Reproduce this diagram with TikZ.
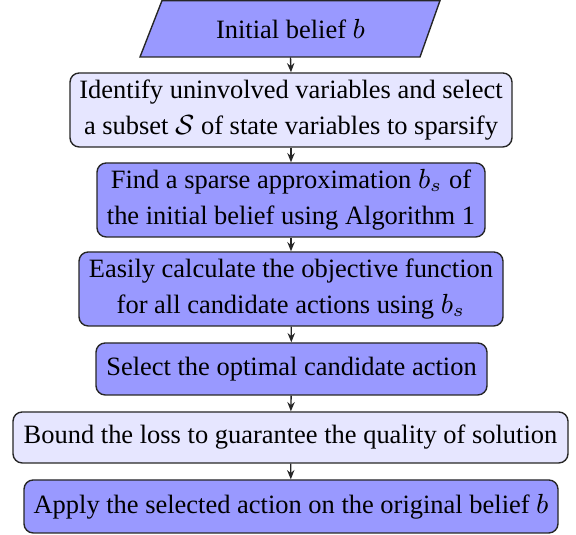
\documentclass[tikz,border=0pt]{standalone}
\usepackage{fontspec}
\setmainfont{Liberation Serif}
\usetikzlibrary{arrows.meta}
\definecolor{darkfill}{HTML}{9999FF}
\definecolor{lightfill}{HTML}{E6E6FF}
\tikzset{
  txt/.style={font=\fontsize{8.6}{11.6}\selectfont},
  box/.style={draw=black!85, line width=0.45pt, rounded corners=3pt, align=center,
    inner sep=0pt, txt},
  dark/.style={box, fill=darkfill},
  light/.style={box, fill=lightfill},
  arr/.style={-{Stealth[length=3pt,width=2.4pt]}, line width=0.45pt, black!85},
}
\begin{document}
\begin{tikzpicture}[x=0.325pt, y=-0.325pt]
\useasboundingbox (0,0) rectangle (576,535);
% parallelogram
\fill[darkfill, draw=black!85, line width=0.45pt] (162,0.6) -- (440,0.6) -- (420,57) -- (140,57) -- cycle;
\node[inner sep=0pt, minimum width=270*0.325pt, minimum height=56*0.325pt, txt] (n1) at (290.5,28.8) {Initial belief $b$};
\node[light, minimum width=442*0.325pt, minimum height=74*0.325pt] (n2) at (291,110)
  {Identify uninvolved variables and select\\a subset $\mathcal{S}$ of state variables to sparsify};
\node[dark, minimum width=388*0.325pt, minimum height=74*0.325pt] (n3) at (291,200)
  {Find a sparse approximation $b_s$ of\\the initial belief using Algorithm 1};
\node[dark, minimum width=424*0.325pt, minimum height=74*0.325pt] (n4) at (291,289)
  {Easily calculate the objective function\\for all candidate actions using $b_s$};
\node[dark, minimum width=391*0.325pt, minimum height=52*0.325pt] (n5) at (291.5,369)
  {Select the optimal candidate action};
\node[light, minimum width=555*0.325pt, minimum height=51*0.325pt] (n6) at (290.5,437.5)
  {Bound the loss to guarantee the quality of solution};
\node[dark, minimum width=534*0.325pt, minimum height=53*0.325pt] (n7) at (291,506.5)
  {Apply the selected action on the original belief $b$};
\draw[arr] (n1.south) -- (n2.north);
\draw[arr] (n2) -- (n3);
\draw[arr] (n3) -- (n4);
\draw[arr] (n4) -- (n5);
\draw[arr] (n5) -- (n6);
\draw[arr] (n6) -- (n7);
\end{tikzpicture}
\end{document}
